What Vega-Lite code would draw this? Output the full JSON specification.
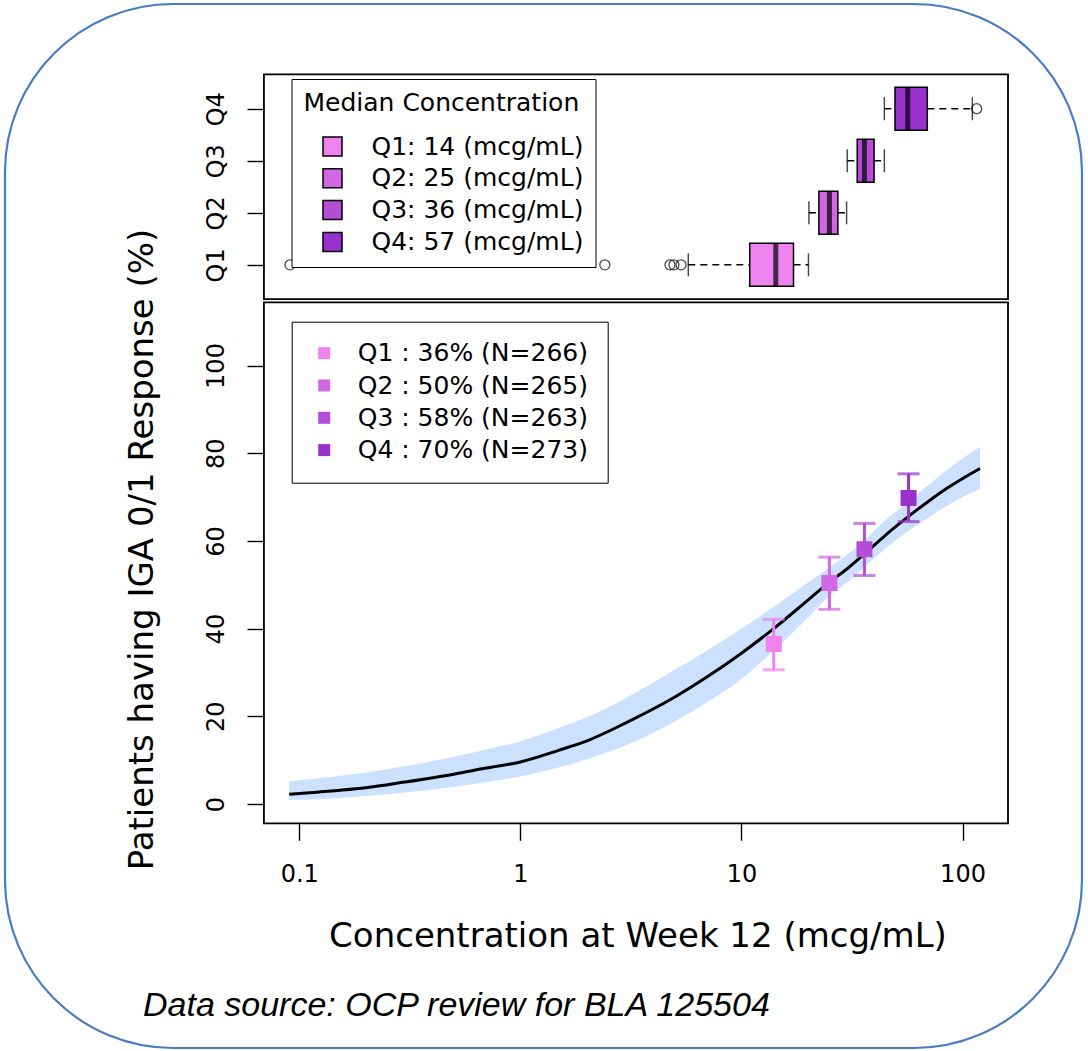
{
  "$schema": "https://vega.github.io/schema/vega-lite/v6.json",
  "width": 1077,
  "height": 1044,
  "autosize": {"type": "none"},
  "padding": {"left": 5, "top": 4, "right": 6, "bottom": 3},
  "background": "white",
  "config": {
    "view": {"stroke": "#4A7CC0", "strokeWidth": 2.2, "cornerRadius": 168, "fill": "white"},
    "font": "DejaVu Sans",
    "axis": {"grid": false, "domain": false, "tickColor": "black", "tickWidth": 1.4, "tickSize": 17, "labelColor": "black", "titleColor": "black", "labelFont": "DejaVu Sans", "titleFont": "DejaVu Sans", "titleFontWeight": "normal", "labelFontSize": 24, "titleFontSize": 34},
    "legend": {"labelFont": "DejaVu Sans", "titleFont": "DejaVu Sans", "labelColor": "black", "titleColor": "black", "labelFontSize": 25, "titleFontSize": 25, "titleFontWeight": "normal", "labelLimit": 0, "titleLimit": 0}
  },
  "title": {"text": "Data source: OCP review for BLA 125504", "orient": "bottom", "anchor": "start", "frame": "group", "font": "Liberation Sans", "fontSize": 34, "fontStyle": "italic", "fontWeight": "normal", "color": "black", "baseline": "alphabetic", "offset": -32, "dx": 138},
  "datasets": {
    "curve": [
      {"conc": 0.09, "fit": 2.2, "lo": 0.9, "hi": 5.2},
      {"conc": 0.12, "fit": 2.7, "lo": 1.1, "hi": 5.8},
      {"conc": 0.15, "fit": 3.1, "lo": 1.4, "hi": 6.4},
      {"conc": 0.2, "fit": 3.7, "lo": 1.8, "hi": 7.2},
      {"conc": 0.3, "fit": 5.0, "lo": 2.6, "hi": 8.6},
      {"conc": 0.5, "fit": 6.8, "lo": 3.9, "hi": 10.8},
      {"conc": 0.7, "fit": 8.2, "lo": 5.0, "hi": 12.4},
      {"conc": 1, "fit": 9.6, "lo": 6.3, "hi": 14.3},
      {"conc": 1.5, "fit": 12.3, "lo": 8.4, "hi": 17.4},
      {"conc": 2, "fit": 14.4, "lo": 10.2, "hi": 19.8},
      {"conc": 3, "fit": 18.5, "lo": 13.4, "hi": 24.2},
      {"conc": 5, "fit": 24.4, "lo": 18.8, "hi": 30.6},
      {"conc": 7, "fit": 29.0, "lo": 23.2, "hi": 35.0},
      {"conc": 10, "fit": 34.4, "lo": 28.5, "hi": 40.0},
      {"conc": 14, "fit": 40.0, "lo": 35.0, "hi": 45.0},
      {"conc": 20, "fit": 46.5, "lo": 42.5, "hi": 50.5},
      {"conc": 25, "fit": 50.6, "lo": 47.5, "hi": 54.0},
      {"conc": 30, "fit": 53.6, "lo": 50.5, "hi": 56.8},
      {"conc": 36, "fit": 57.0, "lo": 54.0, "hi": 60.2},
      {"conc": 45, "fit": 61.4, "lo": 58.3, "hi": 64.8},
      {"conc": 57, "fit": 65.6, "lo": 62.3, "hi": 69.0},
      {"conc": 70, "fit": 69.0, "lo": 65.3, "hi": 72.7},
      {"conc": 85, "fit": 72.0, "lo": 68.0, "hi": 76.2},
      {"conc": 100, "fit": 74.2, "lo": 70.0, "hi": 78.8},
      {"conc": 120, "fit": 76.5, "lo": 71.8, "hi": 81.5}
    ],
    "groups": [
      {"label": "Q1 : 36% (N=266)", "conc": 14, "pct": 36.5, "lo": 30.6, "hi": 42.1},
      {"label": "Q2 : 50% (N=265)", "conc": 25, "pct": 50.4, "lo": 44.4, "hi": 56.3},
      {"label": "Q3 : 58% (N=263)", "conc": 36, "pct": 58.1, "lo": 52.1, "hi": 64.0},
      {"label": "Q4 : 70% (N=273)", "conc": 57, "pct": 69.8, "lo": 64.4, "hi": 75.3}
    ],
    "boxes": [
      {"q": 1, "legend": "Q1: 14 (mcg/mL)", "wlo": 5.75, "q1": 10.9, "med": 14.3, "q3": 17.2, "whi": 20.1},
      {"q": 2, "legend": "Q2: 25 (mcg/mL)", "wlo": 20.2, "q1": 22.4, "med": 25.0, "q3": 27.3, "whi": 29.9},
      {"q": 3, "legend": "Q3: 36 (mcg/mL)", "wlo": 30.1, "q1": 33.4, "med": 36.0, "q3": 39.8, "whi": 44.3},
      {"q": 4, "legend": "Q4: 57 (mcg/mL)", "wlo": 44.3, "q1": 49.5, "med": 56.5, "q3": 69.3, "whi": 110.8}
    ],
    "outliers": [
      {"q": 1, "conc": 0.0908},
      {"q": 1, "conc": 2.41},
      {"q": 1, "conc": 4.75},
      {"q": 1, "conc": 4.95},
      {"q": 1, "conc": 5.33},
      {"q": 4, "conc": 115.9}
    ],
    "frame": [{"panel": "frame"}]
  },
  "layer": [
    {
      "layer": [
        {
          "data": {"name": "curve"},
          "mark": {"type": "area", "color": "#CCE0FF", "opacity": 1, "interpolate": "monotone"},
          "encoding": {
            "x": {"field": "conc", "type": "quantitative", "title": "Concentration at Week 12 (mcg/mL)", "scale": {"type": "log", "domain": [0.004665, 347.1], "nice": false},
              "axis": {"orient": "bottom", "offset": -224.7, "values": [0.1, 1, 10, 100], "format": "~g", "labelBaseline": "alphabetic", "labelPadding": 41, "labelFlush": false, "labelOverlap": false,
                "titleX": 632.5, "titleY": 123.4, "titleAlign": "center", "titleBaseline": "alphabetic", "titleAngle": 0}},
            "y": {"field": "lo", "type": "quantitative", "title": "Patients having IGA 0/1 Response (%)", "scale": {"domain": [-55.64, 182.44], "nice": false, "zero": false},
              "axis": {"orient": "left", "offset": -259, "values": [0, 20, 40, 60, 80, 100], "labelAngle": -90, "labelAlign": "center", "labelBaseline": "alphabetic", "labelPadding": 23.7,
                "titleX": -122, "titleY": 545, "titleAngle": -90, "titleAlign": "center", "titleBaseline": "middle"}},
            "y2": {"field": "hi"}
          }
        },
        {
          "data": {"name": "curve"},
          "mark": {"type": "line", "color": "black", "strokeWidth": 3, "interpolate": "monotone"},
          "encoding": {
            "x": {"field": "conc", "type": "quantitative", "title": "Concentration at Week 12 (mcg/mL)", "scale": {"type": "log", "domain": [0.004665, 347.1], "nice": false}},
            "y": {"field": "fit", "type": "quantitative", "title": "Patients having IGA 0/1 Response (%)"}
          }
        },
        {
          "data": {"name": "groups"},
          "mark": {"type": "errorbar", "orient": "vertical", "thickness": 3, "ticks": {"size": 22, "thickness": 3}},
          "encoding": {
            "x": {"field": "conc", "type": "quantitative", "title": "Concentration at Week 12 (mcg/mL)", "scale": {"type": "log", "domain": [0.004665, 347.1], "nice": false}},
            "y": {"field": "lo", "type": "quantitative", "title": "Patients having IGA 0/1 Response (%)"},
            "y2": {"field": "hi"},
            "color": {"field": "label", "type": "nominal", "scale": {"range": ["#EE82EE", "#D167E3", "#B54DD7", "#9932CC"]}}
          }
        },
        {
          "data": {"name": "groups"},
          "mark": {"type": "square", "size": 256, "filled": true, "opacity": 1},
          "encoding": {
            "x": {"field": "conc", "type": "quantitative", "title": "Concentration at Week 12 (mcg/mL)", "scale": {"type": "log", "domain": [0.004665, 347.1], "nice": false}},
            "y": {"field": "pct", "type": "quantitative", "title": "Patients having IGA 0/1 Response (%)"},
            "color": {"field": "label", "type": "nominal", "scale": {"range": ["#EE82EE", "#D167E3", "#B54DD7", "#9932CC"]},
              "legend": {"orient": "none", "legendX": 286.7, "legendY": 317.7, "title": null, "symbolType": "square", "symbolSize": 144, "symbolStrokeWidth": 0, "symbolOpacity": 1, "padding": 19, "symbolOffset": 1, "labelOffset": 21, "rowPadding": 6.3, "strokeColor": "black", "fillColor": "white",
                "encode": {"symbols": {"update": {"opacity": {"value": 1}, "fillOpacity": {"value": 1}, "strokeOpacity": {"value": 1}}}}}}
          }
        },
        {
          "data": {"name": "frame"},
          "mark": {"type": "rect", "filled": false, "color": "black", "strokeWidth": 1.8},
          "encoding": {
            "x": {"datum": 0.0692, "type": "quantitative", "title": "Concentration at Week 12 (mcg/mL)", "scale": {"type": "log", "domain": [0.004665, 347.1], "nice": false}},
            "x2": {"datum": 160.6},
            "y": {"datum": -4.4, "type": "quantitative", "title": "Patients having IGA 0/1 Response (%)"},
            "y2": {"datum": 114.4}
          }
        }
      ]
    },
    {
      "layer": [
        {
          "data": {"name": "boxes"},
          "mark": {"type": "rule", "color": "black", "strokeWidth": 1.5, "strokeDash": [7, 5]},
          "encoding": {
            "x": {"field": "wlo", "type": "quantitative", "title": "Concentration at Week 12 (mcg/mL)", "scale": {"type": "log", "domain": [0.004665, 347.1], "nice": false}},
            "x2": {"field": "q1"},
            "y": {"field": "q", "type": "quantitative", "title": null, "scale": {"domain": [-13.952, 5.916], "nice": false, "zero": false},
              "axis": {"orient": "left", "offset": -259, "values": [1, 2, 3, 4], "labelExpr": "'Q' + datum.value", "labelAngle": -90, "labelAlign": "center", "labelBaseline": "alphabetic", "labelPadding": 23.7, "title": null}}
          }
        },
        {
          "data": {"name": "boxes"},
          "mark": {"type": "rule", "color": "black", "strokeWidth": 1.5, "strokeDash": [7, 5]},
          "encoding": {
            "x": {"field": "q3", "type": "quantitative", "title": "Concentration at Week 12 (mcg/mL)", "scale": {"type": "log", "domain": [0.004665, 347.1], "nice": false}},
            "x2": {"field": "whi"},
            "y": {"field": "q", "type": "quantitative", "title": null}
          }
        },
        {
          "data": {"name": "boxes"},
          "mark": {"type": "tick", "orient": "vertical", "color": "black", "size": 23, "thickness": 1.5},
          "encoding": {
            "x": {"field": "wlo", "type": "quantitative", "title": "Concentration at Week 12 (mcg/mL)", "scale": {"type": "log", "domain": [0.004665, 347.1], "nice": false}},
            "y": {"field": "q", "type": "quantitative", "title": null}
          }
        },
        {
          "data": {"name": "boxes"},
          "mark": {"type": "tick", "orient": "vertical", "color": "black", "size": 23, "thickness": 1.5},
          "encoding": {
            "x": {"field": "whi", "type": "quantitative", "title": "Concentration at Week 12 (mcg/mL)", "scale": {"type": "log", "domain": [0.004665, 347.1], "nice": false}},
            "y": {"field": "q", "type": "quantitative", "title": null}
          }
        },
        {
          "data": {"name": "boxes"},
          "mark": {"type": "bar", "size": 43, "stroke": "black", "strokeWidth": 1.5},
          "encoding": {
            "x": {"field": "q1", "type": "quantitative", "title": "Concentration at Week 12 (mcg/mL)", "scale": {"type": "log", "domain": [0.004665, 347.1], "nice": false}},
            "x2": {"field": "q3"},
            "y": {"field": "q", "type": "quantitative", "title": null},
            "fill": {"field": "legend", "type": "nominal", "scale": {"range": ["#EE82EE", "#D167E3", "#B54DD7", "#9932CC"]},
              "legend": {"orient": "none", "legendX": 286.5, "legendY": 75, "title": "Median Concentration", "symbolType": "square", "symbolSize": 361, "symbolStrokeColor": "black", "symbolStrokeWidth": 1.5, "symbolOpacity": 1, "padding": 12, "symbolOffset": 16.5, "labelOffset": 26.5, "rowPadding": 5.8, "titlePadding": 18, "strokeColor": "black", "fillColor": "white"}}
          }
        },
        {
          "data": {"name": "boxes"},
          "mark": {"type": "tick", "orient": "vertical", "color": "black", "size": 43, "thickness": 5},
          "encoding": {
            "x": {"field": "med", "type": "quantitative", "title": "Concentration at Week 12 (mcg/mL)", "scale": {"type": "log", "domain": [0.004665, 347.1], "nice": false}},
            "y": {"field": "q", "type": "quantitative", "title": null}
          }
        },
        {
          "data": {"name": "outliers"},
          "mark": {"type": "point", "shape": "circle", "filled": false, "color": "black", "size": 100, "strokeWidth": 1.3},
          "encoding": {
            "x": {"field": "conc", "type": "quantitative", "title": "Concentration at Week 12 (mcg/mL)", "scale": {"type": "log", "domain": [0.004665, 347.1], "nice": false}},
            "y": {"field": "q", "type": "quantitative", "title": null}
          }
        },
        {
          "data": {"name": "frame"},
          "mark": {"type": "rect", "filled": false, "color": "black", "strokeWidth": 1.8},
          "encoding": {
            "x": {"datum": 0.0692, "type": "quantitative", "title": "Concentration at Week 12 (mcg/mL)", "scale": {"type": "log", "domain": [0.004665, 347.1], "nice": false}},
            "x2": {"datum": 160.6},
            "y": {"datum": 0.34, "type": "quantitative", "title": null},
            "y2": {"datum": 4.66}
          }
        }
      ]
    }
  ],
  "resolve": {"scale": {"y": "independent"}}
}
